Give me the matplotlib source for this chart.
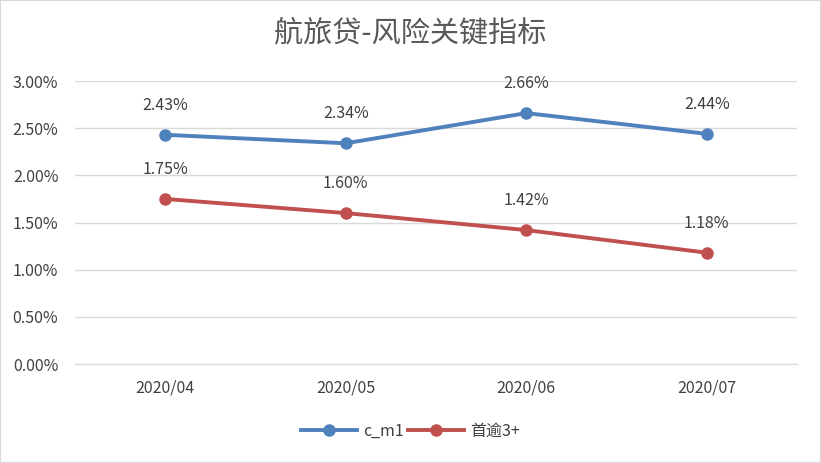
import numpy as np
import matplotlib.pyplot as plt
from matplotlib.ticker import PercentFormatter

plt.rcParams['font.family'] = ['Noto Sans CJK SC', 'DejaVu Sans']

# data
months = ["2020/04", "2020/05", "2020/06", "2020/07"]
c_m1 = [2.43, 2.34, 2.66, 2.44]
first_overdue = [1.75, 1.60, 1.42, 1.18]
yticks = [0, 0.5, 1.0, 1.5, 2.0, 2.5, 3.0]

blue = "#4F81BD"
red = "#C0504D"
text_color = "#404040"

fig = plt.figure(figsize=(8.21, 4.63), dpi=100)
ax = fig.add_axes([0.0914, 0.2138, 0.8794, 0.6112])
x = np.arange(len(months))

ax.plot(x, c_m1, color=blue, lw=2.8, marker="o", ms=8, label="c_m1")
ax.plot(x, first_overdue, color=red, lw=2.8, marker="o", ms=8, label="首逾3+")

# value labels above each point
for xi, v in zip(x, c_m1):
    ax.annotate(f"{v:.2f}%", (xi, v), xytext=(0, 15), textcoords="offset points",
                ha="center", va="bottom", fontsize=11.5, color=text_color)
for xi, v in zip(x, first_overdue):
    ax.annotate(f"{v:.2f}%", (xi, v), xytext=(0, 15), textcoords="offset points",
                ha="center", va="bottom", fontsize=11.5, color=text_color)

ax.set_xlim(-0.5, 3.5)
ax.set_ylim(0, 3.0)
ax.set_yticks(yticks)
ax.yaxis.set_major_formatter(PercentFormatter(decimals=2))
ax.set_xticks(x)
ax.set_xticklabels(months)
ax.tick_params(axis="both", length=0, labelsize=11.5, labelcolor=text_color)
ax.tick_params(axis="x", pad=11)
ax.tick_params(axis="y", pad=12)
ax.grid(axis="y", color="#D9D9D9", lw=1)
ax.set_axisbelow(True)
for s in ["top", "right", "left"]:
    ax.spines[s].set_visible(False)
ax.spines["bottom"].set_color("#D9D9D9")

fig.suptitle("航旅贷-风险关键指标", y=0.96, fontsize=21, color="#595959")
fig.legend(loc="lower center", ncol=2, frameon=False, bbox_to_anchor=(0.5, 0.02),
           fontsize=11.5, handlelength=3.5, columnspacing=0.3, handletextpad=0.4,
           labelcolor=text_color)

# light border round the chart
fig.patches.append(plt.Rectangle((0, 0), 1, 1, transform=fig.transFigure,
                                 fill=False, edgecolor="#D9D9D9", lw=1.5))
fig.savefig("out.png", dpi=100)
